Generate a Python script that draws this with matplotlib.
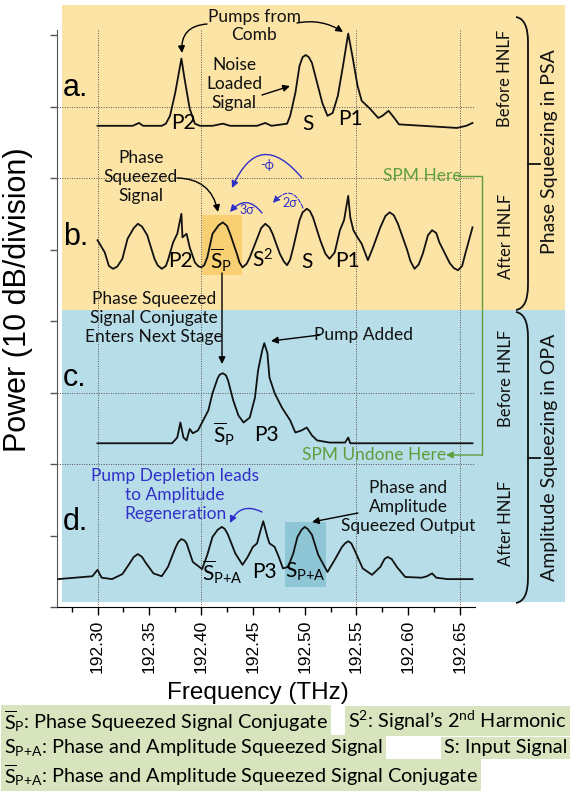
import matplotlib.pyplot as plt
from matplotlib.patches import Rectangle, PathPatch
from matplotlib.path import Path
from matplotlib.lines import Line2D

plt.rcParams['font.family'] = ['Lato', 'DejaVu Sans']
plt.rcParams['mathtext.fontset'] = 'custom'
plt.rcParams['mathtext.rm'] = 'Lato'
plt.rcParams['mathtext.it'] = 'Lato:italic'
plt.rcParams['mathtext.bf'] = 'Lato:bold'

# spectra (frequency in THz, power in dB, stacked traces)
a_x = [192.300, 192.334, 192.340, 192.344, 192.362, 192.366, 192.370, 192.375, 192.381, 192.384,
       192.389, 192.394, 192.399, 192.411, 192.421, 192.428, 192.454, 192.462, 192.468, 192.483,
       192.486, 192.491, 192.495, 192.498, 192.501, 192.504, 192.507, 192.512, 192.517, 192.522,
       192.527, 192.532, 192.537, 192.542, 192.546, 192.551, 192.555, 192.563, 192.571, 192.575,
       192.581, 192.587, 192.591, 192.614, 192.647, 192.656, 192.662]
a_y = [67.3, 67.3, 67.7, 67.3, 67.3, 67.6, 68.7, 71.9, 76.7, 73.9,
       69.7, 67.6, 67.3, 67.3, 67.6, 67.3, 67.3, 67.7, 67.3, 67.6,
       68.7, 71.9, 75.7, 76.9, 77.2, 76.9, 76.1, 73.3, 70.5, 68.7,
       69.1, 71.5, 75.7, 80.2, 77.1, 72.9, 70.8, 69.7, 68.4, 68.7,
       69.4, 68.3, 67.5, 67.3, 67.0, 67.3, 67.7]

b_x = [192.300, 192.307, 192.311, 192.315, 192.319, 192.324, 192.329, 192.335, 192.339, 192.343,
       192.348, 192.355, 192.358, 192.362, 192.366, 192.368, 192.373, 192.377, 192.381, 192.382,
       192.386, 192.389, 192.394, 192.397, 192.400, 192.403, 192.406, 192.411, 192.417, 192.421,
       192.425, 192.428, 192.435, 192.437, 192.440, 192.444, 192.447, 192.454, 192.458, 192.462,
       192.466, 192.469, 192.476, 192.480, 192.483, 192.486, 192.489, 192.495, 192.498, 192.502,
       192.505, 192.508, 192.515, 192.520, 192.524, 192.529, 192.534, 192.538, 192.542, 192.544,
       192.547, 192.551, 192.555, 192.561, 192.566, 192.573, 192.578, 192.582, 192.586, 192.590,
       192.599, 192.602, 192.606, 192.610, 192.614, 192.619, 192.623, 192.627, 192.630, 192.640,
       192.644, 192.648, 192.652, 192.655, 192.662]
b_y = [51.3, 49.6, 47.7, 47.3, 47.6, 48.7, 51.5, 53.0, 53.6, 53.2,
       52.0, 48.7, 47.8, 47.3, 47.7, 48.5, 51.0, 52.2, 55.0, 51.7,
       52.2, 50.3, 48.2, 47.7, 47.5, 47.8, 48.9, 52.2, 53.4, 53.8,
       53.3, 52.2, 49.2, 48.2, 47.5, 48.0, 48.9, 51.5, 53.0, 53.6,
       53.1, 52.2, 49.4, 48.3, 47.8, 48.6, 50.3, 54.1, 55.2, 55.7,
       55.4, 54.5, 51.3, 49.4, 48.7, 49.6, 52.7, 54.1, 57.5, 54.5,
       52.7, 51.7, 50.8, 48.5, 50.3, 53.1, 54.7, 55.2, 54.8, 53.6,
       49.9, 48.4, 47.3, 47.9, 49.4, 52.0, 52.7, 52.3, 51.0, 48.1,
       47.4, 47.1, 47.7, 49.4, 53.1]

c_x = [192.300, 192.372, 192.377, 192.380, 192.383, 192.386, 192.389, 192.392, 192.397, 192.402,
       192.407, 192.411, 192.416, 192.418, 192.421, 192.424, 192.426, 192.431, 192.436, 192.441,
       192.447, 192.452, 192.455, 192.459, 192.461, 192.464, 192.466, 192.471, 192.478, 192.486,
       192.491, 192.497, 192.502, 192.507, 192.512, 192.524, 192.539, 192.542, 192.544, 192.582,
       192.662]
c_y = [22.9, 22.9, 23.7, 25.8, 23.7, 23.3, 24.9, 24.3, 24.7, 26.1,
       27.5, 29.9, 32.0, 32.5, 32.7, 32.4, 31.7, 28.9, 26.8, 25.8,
       26.5, 29.3, 33.1, 35.9, 36.9, 35.5, 32.1, 29.9, 27.9, 26.1,
       24.4, 24.7, 25.1, 24.0, 23.3, 23.0, 23.0, 23.7, 22.9, 22.9,
       22.9]

d_x = [192.262, 192.295, 192.300, 192.304, 192.314, 192.324, 192.331, 192.335, 192.339, 192.343,
       192.346, 192.354, 192.362, 192.368, 192.375, 192.378, 192.381, 192.384, 192.386, 192.392,
       192.401, 192.406, 192.411, 192.416, 192.420, 192.423, 192.426, 192.433, 192.440, 192.445,
       192.450, 192.454, 192.457, 192.460, 192.464, 192.466, 192.471, 192.475, 192.479, 192.484,
       192.489, 192.493, 192.497, 192.500, 192.503, 192.507, 192.513, 192.522, 192.529, 192.536,
       192.539, 192.542, 192.545, 192.548, 192.556, 192.565, 192.573, 192.577, 192.580, 192.584,
       192.589, 192.597, 192.613, 192.618, 192.623, 192.627, 192.638, 192.662]
d_y = [3.9, 4.3, 5.2, 4.1, 3.9, 4.6, 6.1, 7.0, 7.4, 7.0,
       6.3, 4.7, 4.3, 5.6, 8.2, 9.1, 9.5, 9.3, 8.9, 6.3,
       5.3, 7.3, 9.8, 10.8, 11.2, 10.9, 10.1, 7.5, 5.9, 7.0,
       8.4, 8.9, 10.5, 12.0, 9.8, 8.9, 8.4, 7.0, 5.4, 5.6,
       7.5, 9.8, 10.8, 11.2, 10.9, 10.1, 7.3, 4.9, 6.6, 8.4,
       8.9, 9.2, 8.9, 8.0, 5.4, 4.5, 5.6, 6.7, 7.0, 6.7,
       5.6, 4.2, 4.1, 4.3, 4.7, 4.1, 3.9, 3.9]

xticks = [192.30, 192.35, 192.40, 192.45, 192.50, 192.55, 192.60, 192.65]
xtick_labels = ['192.30', '192.35', '192.40', '192.45', '192.50', '192.55', '192.60', '192.65']
xminor = [192.275, 192.325, 192.375, 192.425, 192.475, 192.525, 192.575, 192.625]
yticks = [0, 10, 20, 30, 40, 50, 60, 70, 80]
hgrid = [20, 30, 60, 70]
vgrid = [192.30, 192.40, 192.55, 192.65]

# peak labels: (text, x, y)
peak_labels = [
    ('P2', 192.3826, 67.7), ('S', 192.5032, 67.6), ('P1', 192.5437, 68.3),
    ('P2', 192.3797, 48.4), (r'$\overline{\mathrm{S}}_{\mathrm{P}}$', 192.4192, 48.5),
    (r'S$^2$', 192.4598, 48.5), ('S', 192.5022, 48.3), ('P1', 192.5408, 48.4),
    (r'$\overline{\mathrm{S}}_{\mathrm{P}}$', 192.4222, 24.2), ('P3', 192.4627, 24.1),
    (r'$\overline{\mathrm{S}}_{\mathrm{P{+}A}}$', 192.4202, 4.9), ('P3', 192.4607, 4.9),
    (r'S$_{\mathrm{P{+}A}}$', 192.5003, 4.9),
]

W, H = 571, 794


def fxy(x, y):
    return (x / W, 1 - y / H)


fig = plt.figure(figsize=(W / 100, H / 100), dpi=100)

ORANGE = '#FCE3A6'
BLUE = '#B7DDE8'
GREEN = '#5E9E3C'
VIOLET = '#3030C8'
for y0, y1, c in [(5, 310, ORANGE), (310, 602, BLUE)]:
    fig.patches.append(Rectangle(fxy(62, y1), (565 - 62) / W, (y1 - y0) / H,
                                 transform=fig.transFigure, fc=c, ec='none', zorder=-5))

ax = fig.add_axes([57 / W, 1 - 607 / H, (475 - 57) / W, (607 - 30) / H])
ax.set_facecolor('none')
ax.set_xlim(192.2609, 192.6644)
ax.set_ylim(0, 80.7)

# highlighted peaks
ax.add_patch(Rectangle((192.4008, 46.4), 0.0388, 8.4, fc='#F8CF73', ec='none', zorder=0.5))
ax.add_patch(Rectangle((192.4810, 2.8), 0.0396, 9.1, fc='#8EC6D6', ec='none', zorder=0.5))

for v in hgrid:
    ax.axhline(v, color='#555555', lw=0.7, ls=(0, (1, 1.5)), zorder=1)
for v in vgrid:
    ax.axvline(v, color='#555555', lw=0.7, ls=(0, (1, 1.5)), zorder=1)

for xs, ys in [(a_x, a_y), (b_x, b_y), (c_x, c_y), (d_x, d_y)]:
    ax.plot(xs, ys, color='#111111', lw=1.3, zorder=3, solid_joinstyle='round')

for s, x, y in peak_labels:
    ax.text(x, y, s, fontsize=15, ha='center', va='center', zorder=4)

ax.set_xticks(xticks)
ax.set_xticklabels(xtick_labels, rotation=90, fontfamily='Liberation Sans', fontsize=12.5)
ax.set_xticks(xminor, minor=True)
ax.set_yticks(yticks)
ax.set_yticklabels([])
ax.tick_params(axis='x', which='major', direction='out', length=6, width=1, pad=3)
ax.tick_params(axis='x', which='minor', direction='out', length=3.5, width=1)
ax.tick_params(axis='y', direction='out', length=5, width=1, color='#555555')
for side in ['top', 'right']:
    ax.spines[side].set_visible(False)
ax.spines['left'].set_color('#555555')

fig.text(*fxy(258, 693), 'Frequency (THz)', ha='center', va='center',
         fontfamily='Liberation Sans', fontsize=17.5)
fig.text(*fxy(18, 300), 'Power (10 dB/division)', ha='center', va='center', rotation=90,
         fontfamily='Liberation Sans', fontsize=22)

for s, (x, y) in zip(['a.', 'b.', 'c.', 'd.'], [(63, 88), (63, 237), (63, 378), (63, 522)]):
    fig.text(*fxy(x, y), s, ha='left', va='center', fontfamily='Liberation Sans', fontsize=22)


def arrow(start, end, rad=0.0, color='k', ls='-', lw=1.0):
    ax.annotate('', xy=fxy(*end), xytext=fxy(*start), xycoords='figure fraction',
                textcoords='figure fraction', annotation_clip=False,
                arrowprops=dict(arrowstyle='-|>', color=color, lw=lw, linestyle=ls,
                                mutation_scale=10, shrinkA=0, shrinkB=0,
                                connectionstyle='arc3,rad=%s' % rad))


def note(x, y, s, size=12.5, color='#111111', **kw):
    fig.text(*fxy(x, y), s, ha='center', va='center', fontsize=size, color=color,
             linespacing=1.2, **kw)


note(254, 26, 'Pumps from\nComb')
arrow((207, 24), (182, 53), rad=0.5)
arrow((297, 23), (343, 32), rad=-0.2)
note(234, 84, 'Noise\nLoaded\nSignal')
arrow((262, 95), (290, 86))

note(141, 177, 'Phase\nSqueezed\nSignal')
arrow((177, 178), (218, 212), rad=-0.4)
arrow((302, 178), (232, 188), rad=0.8, color=VIOLET)
note(267, 165, '-ϕ', size=9, color=VIOLET)
arrow((262, 213), (230, 212), rad=0.6, color=VIOLET)
note(247, 210, '3σ', size=9, color=VIOLET)
arrow((303, 208), (273, 203), rad=0.8, color=VIOLET, ls='--', lw=0.8)
note(290, 203, '2σ', size=9, color=VIOLET)

note(154, 318, 'Phase Squeezed\nSignal Conjugate\nEnters Next Stage')
arrow((222, 273), (222, 364))
note(364, 335, 'Pump Added')
arrow((320, 335), (271, 341))

note(175, 495, 'Pump Depletion leads\nto Amplitude\nRegeneration', color=VIOLET)
arrow((262, 512), (230, 523), rad=0.5, color=VIOLET)
note(408, 507, 'Phase and\nAmplitude\nSqueezed Output')
arrow((358, 513), (312, 522))

note(422, 176, 'SPM Here', color=GREEN)
note(374, 455, 'SPM Undone Here', color=GREEN)
fig.add_artist(Line2D([458 / W, 482 / W, 482 / W], [1 - 176 / H, 1 - 176 / H, 1 - 455 / H],
                      transform=fig.transFigure, color=GREEN, lw=1))
arrow((482, 455), (446, 455), color=GREEN)

for x, y, s in [(505, 78, 'Before HNLF'), (506, 236, 'After HNLF'),
                (506, 378, 'Before HNLF'), (506, 523, 'After HNLF')]:
    note(x, y, s, size=12, rotation=90)
note(549, 152, 'Phase Squeezing in PSA', size=14, rotation=90)
note(550, 457, 'Amplitude Squeezing in OPA', size=14, rotation=90)


def brace(y0, y1):
    ym = (y0 + y1) / 2
    verts = [fxy(516, y0), fxy(528, y0 + 2), fxy(528, y0 + 25), fxy(528, y1 - 25),
             fxy(528, y1 - 2), fxy(516, y1)]
    codes = [Path.MOVETO, Path.CURVE3, Path.CURVE3, Path.LINETO, Path.CURVE3, Path.CURVE3]
    fig.patches.append(PathPatch(Path(verts, codes), transform=fig.transFigure,
                                 fc='none', ec='#111111', lw=1.3))
    fig.add_artist(Line2D([528 / W, 540 / W], [1 - ym / H, 1 - ym / H],
                          transform=fig.transFigure, color='#111111', lw=1.3))


brace(17, 310)
brace(312, 603)

BOX = dict(boxstyle='square,pad=0.15', fc='#D7E4BD', ec='none')
BOXFONT = 14.3
fig.text(*fxy(4, 721), r'$\overline{\mathrm{S}}_{\mathrm{P}}$: Phase Squeezed Signal Conjugate',
         ha='left', va='center', fontsize=BOXFONT, bbox=BOX)
fig.text(*fxy(567, 721), r'S$^2$: Signal’s 2$^{\mathrm{nd}}$ Harmonic',
         ha='right', va='center', fontsize=BOXFONT, bbox=BOX)
fig.text(*fxy(4, 748), r'S$_{\mathrm{P{+}A}}$: Phase and Amplitude Squeezed Signal',
         ha='left', va='center', fontsize=BOXFONT, bbox=BOX)
fig.text(*fxy(567, 748), 'S: Input Signal', ha='right', va='center', fontsize=BOXFONT, bbox=BOX)
fig.text(*fxy(4, 775), r'$\overline{\mathrm{S}}_{\mathrm{P{+}A}}$: Phase and Amplitude Squeezed Signal Conjugate',
         ha='left', va='center', fontsize=BOXFONT, bbox=BOX)

fig.savefig('out.png', dpi=100)
